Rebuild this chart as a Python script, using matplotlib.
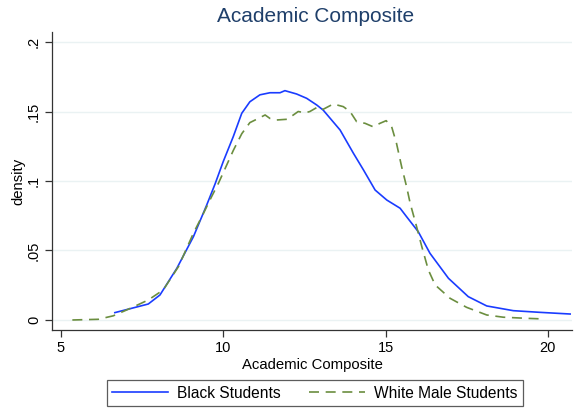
import matplotlib
matplotlib.use("Agg")
import matplotlib.pyplot as plt

plt.rcParams['font.family'] = ['Liberation Sans', 'DejaVu Sans']

title = "Academic Composite"
xlabel = "Academic Composite"
ylabel = "density"
series_names = ["Black Students", "White Male Students"]
xticks = [5, 10, 15, 20]
yticks = [0, 0.05, 0.1, 0.15, 0.2]
ytick_labels = ["0", ".05", ".1", ".15", ".2"]

black_x = [6.66, 7.69, 8.05, 8.57, 9.08, 9.49, 9.75, 10.0, 10.31, 10.57, 10.82, 11.13,
           11.44, 11.75, 11.90, 12.26, 12.57, 12.88, 13.08, 13.60, 14.01, 14.32, 14.68,
           15.04, 15.45, 15.65, 16.01, 16.37, 16.94, 17.55, 18.12, 18.94, 19.76, 20.69]
black_y = [0.0053, 0.0115, 0.018, 0.0372, 0.0599, 0.0827, 0.098, 0.114, 0.132, 0.1487,
           0.157, 0.162, 0.1635, 0.1635, 0.165, 0.1626, 0.1595, 0.1547, 0.151, 0.1367,
           0.120, 0.108, 0.0935, 0.0863, 0.0804, 0.0743, 0.0635, 0.048, 0.030, 0.0168,
           0.0101, 0.0067, 0.0055, 0.0043]

white_x = [5.35, 6.15, 6.61, 7.1, 7.69, 8.15, 8.62, 9.08, 9.39, 9.64, 9.85, 10.0, 10.31,
           10.57, 10.82, 11.08, 11.29, 11.44, 11.65, 11.96, 12.16, 12.31, 12.52, 12.67,
           12.93, 13.08, 13.39, 13.70, 13.91, 14.11, 14.37, 14.62, 14.83, 15.02, 15.19,
           15.34, 15.50, 15.65, 15.76, 15.96, 16.12, 16.32, 16.53, 16.99, 17.50, 18.12,
           18.63, 19.35, 19.92]
white_y = [0.0, 0.0005, 0.003, 0.008, 0.0144, 0.0216, 0.0384, 0.0624, 0.0767, 0.0887,
           0.0983, 0.106, 0.122, 0.134, 0.142, 0.145, 0.1475, 0.145, 0.1439, 0.1444,
           0.1475, 0.150, 0.149, 0.150, 0.1535, 0.1516, 0.1554, 0.1535, 0.1499, 0.1427,
           0.1415, 0.139, 0.1415, 0.1434, 0.139, 0.127, 0.110, 0.0959, 0.084, 0.067,
           0.0527, 0.036, 0.0252, 0.0156, 0.0091, 0.0036, 0.002, 0.0012, 0.0007]

fig = plt.figure(figsize=(5.75, 4.09), dpi=100)
ax = fig.add_axes([52/575, 79/409, 520/575, 298/409])

ax.set_xlim(4.723, 20.747)
ax.set_ylim(-0.0072, 0.2072)

for y in yticks:
    ax.axhline(y, color='#eaf2f3', lw=1.0, zorder=0)

l1, = ax.plot(black_x, black_y, color='#1a3cff', lw=1.2, label=series_names[0],
              solid_joinstyle='round')
l2, = ax.plot(white_x, white_y, color='#6b8e3f', lw=1.2, dashes=(6, 4), label=series_names[1],
              dash_joinstyle='round')

ax.spines['top'].set_visible(False)
ax.spines['right'].set_visible(False)
for s in ['left', 'bottom']:
    ax.spines[s].set_color('#333333')
    ax.spines[s].set_linewidth(0.9)

ax.set_xticks(xticks)
ax.set_xticklabels([str(v) for v in xticks])
ax.set_yticks(yticks)
ax.set_yticklabels(ytick_labels, rotation=90, va='center')
ax.tick_params(axis='both', direction='out', length=5, width=0.9, color='#333333',
               labelsize=10.5, pad=3)
ax.set_xlabel(xlabel, fontsize=10.75, labelpad=2)
ax.set_ylabel(ylabel, fontsize=10.75, labelpad=1)

fig.text(316/575, 1 - 17/409, title, ha='center', va='center', fontsize=15, color='#1f3f6a')

leg = fig.legend(handles=[l1, l2], loc='center', bbox_to_anchor=(315/575, 1 - 393/409),
                 ncol=2, frameon=True, fancybox=False, edgecolor='#333333', fontsize=11.2,
                 handlelength=3.6, handletextpad=0.6, columnspacing=1.8, borderpad=0.35)
leg.get_frame().set_linewidth(0.9)

fig.savefig("out.png", dpi=100)
